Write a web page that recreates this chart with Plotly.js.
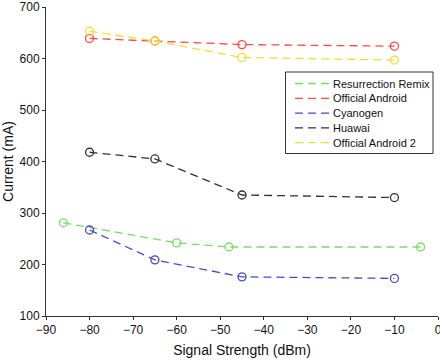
<!DOCTYPE html>
<html><head><meta charset="utf-8">
<script src="https://cdn.plot.ly/plotly-3.0.1.min.js"></script>
<style>body{margin:0;padding:0;background:#fff}#chart{width:440px;height:360px}</style>
</head><body><div id="chart"></div>
<script>
var seriesNames = ["Resurrection Remix", "Official Android", "Cyanogen", "Huawai", "Official Android 2"];
var rrX = [-86, -60, -48, -4];
var rrY = [281, 242, 234, 234];
var oaX = [-80, -65, -45, -10];
var oaY = [639, 634, 627, 624];
var cyX = [-80, -65, -45, -10];
var cyY = [267, 209, 176, 173];
var huX = [-80, -65, -45, -10];
var huY = [418, 405, 335, 330];
var oa2X = [-80, -65, -45, -10];
var oa2Y = [653, 634, 602, 597];
var colors = ["#77dd66", "#ff4a4a", "#4a4ac0", "#333333", "#eedd33"];

var W = 440, H = 360, M = {l: 46, r: 2, t: 7, b: 44};
var pw = W - M.l - M.r, ph = H - M.t - M.b;
function px(x){ return (x - M.l) / pw; }
function py(y){ return (H - M.b - y) / ph; }

var xs = [rrX, oaX, cyX, huX, oa2X];
var ys = [rrY, oaY, cyY, huY, oa2Y];
var dashPat = "8px,5px";
var traces = [];
seriesNames.forEach(function(n, i){
  traces.push({x: xs[i], y: ys[i], name: n, type: "scatter", mode: "lines+markers", showlegend: false,
    line: {color: colors[i], dash: dashPat, width: 1.3},
    marker: {symbol: "circle-open", size: 8, color: colors[i], line: {width: 1.3}}});
});

// manual legend (box, dashed samples, labels)
var shapes = [{type: "rect", xref: "paper", yref: "paper", x0: px(285.5), x1: px(433), y0: py(72), y1: py(153.5),
  line: {color: "#333", width: 1}, fillcolor: "#fff", layer: "above"}];
var annotations = [];
var rowY0 = 83.5, rowStep = 14.8;
seriesNames.forEach(function(n, i){
  var yy = py(rowY0 + i * rowStep);
  shapes.push({type: "line", xref: "paper", yref: "paper", x0: px(295), x1: px(329), y0: yy, y1: yy,
    line: {color: colors[i], width: 1.3, dash: dashPat}, layer: "above"});
  annotations.push({xref: "paper", yref: "paper", x: px(331), y: yy, xanchor: "left", yanchor: "middle",
    text: n, showarrow: false, font: {size: 11, color: "#111"}});
});

var layout = {
  width: W, height: H,
  margin: M,
  paper_bgcolor: "#fff", plot_bgcolor: "#fff",
  font: {family: "Liberation Sans, Arial, sans-serif", size: 12, color: "#111"},
  showlegend: false,
  shapes: shapes, annotations: annotations,
  xaxis: {range: [-90, 0], tickvals: [-90,-80,-70,-60,-50,-40,-30,-20,-10,0],
    showline: true, linecolor: "#333", linewidth: 1, ticks: "outside", ticklen: 3, tickcolor: "#333",
    showgrid: false, zeroline: false, ticklabeloverflow: "allow", title: {text: "Signal Strength (dBm)", standoff: 8}},
  yaxis: {range: [100, 700], tickvals: [100,200,300,400,500,600,700],
    showline: true, linecolor: "#333", linewidth: 1, ticks: "outside", ticklen: 3, tickcolor: "#333",
    showgrid: false, zeroline: false, ticklabeloverflow: "allow", title: {text: "Current (mA)", standoff: 6}}
};
Plotly.newPlot("chart", traces, layout, {displayModeBar: false});
</script></body></html>
